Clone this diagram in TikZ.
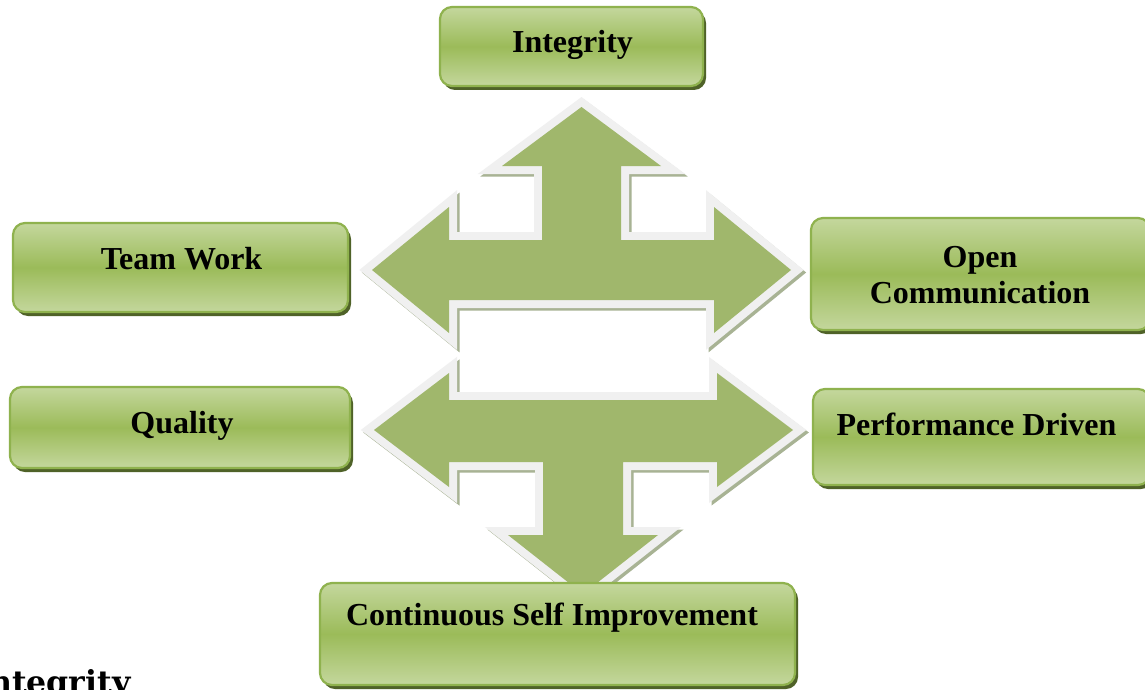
\documentclass[tikz,border=0pt]{standalone}
\usepackage{fontspec}
\setmainfont{Liberation Serif}
\newfontfamily\dvserif{DejaVu Serif}
\usetikzlibrary{shadows}
\definecolor{boxlight}{RGB}{196,215,157}
\definecolor{boxmid}{RGB}{155,187,89}
\definecolor{boxedge}{RGB}{143,178,78}
\definecolor{boxshadow}{RGB}{79,98,40}
\definecolor{arrowgreen}{RGB}{160,183,108}
\definecolor{arrowedge}{RGB}{240,240,240}
\definecolor{arrowshadow}{RGB}{168,179,148}
\def\ArrowUpper{(372,270) -- (449,207) -- (449,240) -- (542,240) -- (542,166) -- (502,166) -- (581.5,107) -- (661,166) -- (621,166) -- (621,240) -- (714,240) -- (714,207) -- (791,270) -- (714,333) -- (714,300) -- (449,300) -- (449,333) -- cycle}
\def\ArrowLower{(374,430) -- (449,373) -- (449,400) -- (717,400) -- (717,373) -- (793,430) -- (717,487) -- (717,462) -- (623,462) -- (623,535) -- (658,535) -- (583,594) -- (508,535) -- (543,535) -- (543,462) -- (449,462) -- (449,487) -- cycle}
\begin{document}
\begin{tikzpicture}[x=0.5pt,y=-0.5pt,
  valuebox/.style={draw=boxedge, line width=1.1pt, rounded corners=6pt,
    top color=boxlight, bottom color=boxlight, middle color=boxmid,
    general shadow={fill=boxshadow, shadow xshift=1.5pt, shadow yshift=-2pt},
    inner sep=0pt},
  valuetext/.style={font=\fontsize{16}{18}\selectfont\bfseries, inner sep=0pt, anchor=base},
  arrowshadowline/.style={draw=arrowshadow, line width=8pt, shift={(2.5,2.5)}},
  arrowedgeline/.style={draw=arrowedge, line width=8pt},
  arrowbody/.style={fill=arrowgreen}]
\useasboundingbox (0,0) rectangle (1145,690);
\clip (0,0) rectangle (1145,690);
\fill[white] (0,0) rectangle (1145,690);

% upper three-headed arrow
\path[arrowshadowline] \ArrowUpper;
\path[arrowedgeline] \ArrowUpper;
\path[arrowbody] \ArrowUpper;
% lower three-headed arrow
\path[arrowshadowline] \ArrowLower;
\path[arrowedgeline] \ArrowLower;
\path[arrowbody] \ArrowLower;

% boxes
\node[valuebox, minimum width=131.5pt, minimum height=39.5pt] (integrity) at (571.5,46.5) {};
\node[valuebox, minimum width=167.5pt, minimum height=44.5pt] (teamwork) at (180.5,267.5) {};
\node[valuebox, minimum width=169.5pt, minimum height=56pt] (opencomm) at (980.5,274) {};
\node[valuebox, minimum width=170pt, minimum height=40.5pt] (quality) at (180,427.5) {};
\node[valuebox, minimum width=168.5pt, minimum height=48pt] (perfdriven) at (981.5,437) {};
\node[valuebox, minimum width=237.5pt, minimum height=51pt] (selfimp) at (557.5,634) {};

% texts
\node[valuetext] (integritytxt) at (572.5,53) {Integrity};
\node[valuetext] (teamworktxt) at (181.5,269) {Team Work};
\node[valuetext] (opentxt) at (980,267) {Open};
\node[valuetext] (commtxt) at (980,303) {Communication};
\node[valuetext] (qualitytxt) at (182,433) {Quality};
\node[valuetext] (perftxt) at (976.5,435) {Performance Driven};
\node[valuetext] (selfimptxt) at (552,625) {Continuous Self Improvement};

% heading cut at the bottom and left edges, as in the reference
\node[font=\dvserif\bfseries\fontsize{15.8}{18}\selectfont, anchor=base east, inner sep=0pt] (heading) at (131,693) {Integrity};
\end{tikzpicture}
\end{document}
